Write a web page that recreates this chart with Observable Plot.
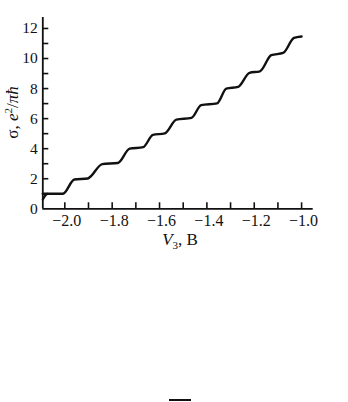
<!DOCTYPE html>
<html>
<head>
<meta charset="utf-8">
<script src="https://cdn.jsdelivr.net/npm/d3@7"></script>
<script src="https://cdn.jsdelivr.net/npm/@observablehq/plot@0.6"></script>
<style>
  html, body { margin: 0; padding: 0; background: #fff; }
  #wrap { position: relative; width: 348px; height: 402px; overflow: hidden; }
  #dash { position: absolute; left: 169px; top: 399px; width: 22px; height: 2px; background: #111; }
</style>
</head>
<body>
<div id="wrap"><div id="dash"></div></div>
<script>
// Gate voltage V3 (V) and conductance sigma (e^2/(pi*hbar))
const V3 =    [-2.093, -2.008, -1.960, -1.903, -1.842, -1.776, -1.726, -1.669, -1.628, -1.578, -1.529, -1.465, -1.424, -1.357, -1.318, -1.268, -1.220, -1.176, -1.128, -1.078, -1.032, -1.000];
const sigma = [ 1.00,   1.00,   1.95,   2.02,   2.97,   3.05,   4.00,   4.10,   4.92,   5.02,   5.93,   6.05,   6.90,   7.02,   8.00,   8.12,   9.05,   9.15,  10.22,  10.37,  11.37,  11.47];
// small hook at the left end
const hookV =     [-2.093, -2.087, -2.080, -2.072];
const hookSigma = [ 0.62,   0.78,   0.93,   1.00];

const xMinorTicks = [-2.0, -1.9, -1.8, -1.7, -1.6, -1.5, -1.4, -1.3, -1.2, -1.1, -1.0];
const xTickLabels = [-2.0, -1.8, -1.6, -1.4, -1.2, -1.0];
const yMinorTicks = [1, 2, 3, 4, 5, 6, 7, 8, 9, 10, 11, 12];
const yTickLabels = [0, 2, 4, 6, 8, 10, 12];

const mainData = V3.map((v, i) => ({v, s: sigma[i]}));
const hookData = hookV.map((v, i) => ({v, s: hookSigma[i]}));
const fmt = d3.format(".1f");
const serif = "'Liberation Serif', 'Times New Roman', serif";

const chart = Plot.plot({
  width: 348,
  height: 402,
  marginLeft: 42.3,
  marginRight: 35.3,
  marginTop: 17,
  marginBottom: 193.7,
  style: {fontFamily: serif, fontSize: "15px", color: "#111", background: "#fff"},
  x: {domain: [-2.093, -0.951]},
  y: {domain: [0, 12.73]},
  marks: [
    Plot.axisX({ticks: xMinorTicks, tickSize: -6, tickFormat: () => "", label: null, strokeWidth: 1.6}),
    Plot.axisX({ticks: xTickLabels, tickSize: 0, tickPadding: 6, tickFormat: fmt, label: null, fontSize: 16, fontFamily: serif, dx: 2}),
    Plot.axisY({ticks: yMinorTicks, tickSize: -6, tickFormat: () => "", label: null, strokeWidth: 1.6}),
    Plot.axisY({ticks: yTickLabels, tickSize: 0, tickPadding: 5, label: null, fontSize: 15.5, fontFamily: serif}),
    Plot.ruleY([0], {strokeWidth: 1.8, stroke: "#111"}),
    Plot.ruleX([-2.093], {strokeWidth: 1.8, stroke: "#111"}),
    Plot.line(mainData, {x: "v", y: "s", curve: "monotone-x", strokeWidth: 2.4, stroke: "#111"}),
    Plot.line(hookData, {x: "v", y: "s", curve: "natural", strokeWidth: 2.2, stroke: "#111"})
  ]
});

const svg = d3.select(chart);
// x axis title: V3, B
const xt = svg.append("text")
  .attr("x", 180).attr("y", 245)
  .attr("text-anchor", "middle")
  .attr("font-family", serif)
  .attr("font-size", 17).attr("fill", "#111");
xt.append("tspan").attr("font-style", "italic").text("V");
xt.append("tspan").attr("font-size", 11).attr("dy", 4).text("3");
xt.append("tspan").attr("dy", -4).text(", B");

// y axis title: σ, e²/πħ
const yt = svg.append("text")
  .attr("transform", "translate(18,112.5) rotate(-90)")
  .attr("text-anchor", "middle")
  .attr("font-family", serif)
  .attr("font-size", 17).attr("fill", "#111");
yt.append("tspan").text("σ, ");
yt.append("tspan").attr("font-style", "italic").text("e");
yt.append("tspan").attr("font-size", 11).attr("dy", -6).text("2");
yt.append("tspan").attr("dy", 6).text("/");
yt.append("tspan").attr("font-style", "italic").text("πħ");

document.getElementById("wrap").prepend(chart);
</script>
</body>
</html>
